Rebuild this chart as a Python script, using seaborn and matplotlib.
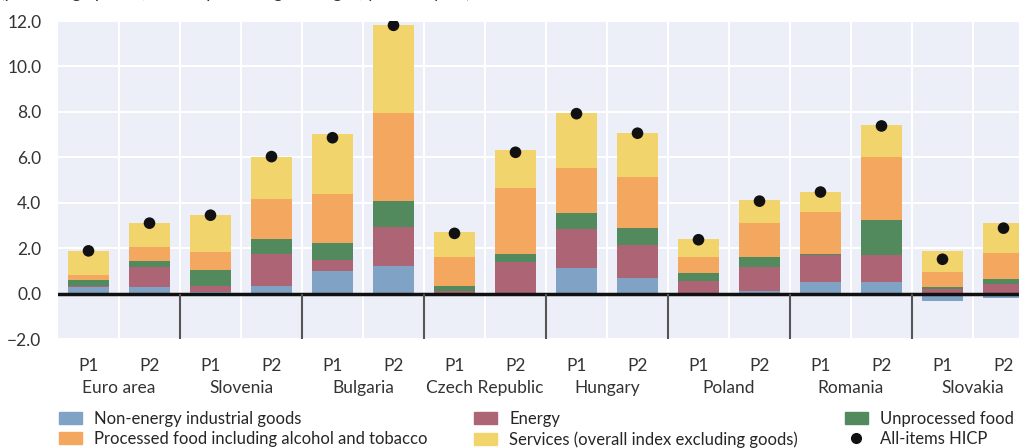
import numpy as np
import pandas as pd
import matplotlib
matplotlib.use("Agg")
import matplotlib.pyplot as plt
import seaborn as sns
from matplotlib.patches import Patch
from matplotlib.lines import Line2D


# Chart data
countries = ["Euro area", "Slovenia", "Bulgaria", "Czech Republic",
             "Hungary", "Poland", "Romania", "Slovakia"]
periods = ["P1", "P2"]

non_energy = [0.29, 0.28, 0.06, 0.32, 0.98, 1.20, 0.00, 0.00,
              1.12, 0.67, 0.00, 0.10, 0.50, 0.50, -0.34, -0.21]
energy = [0.04, 0.88, 0.26, 1.41, 0.49, 1.73, 0.10, 1.38,
          1.72, 1.46, 0.54, 1.06, 1.19, 1.19, 0.19, 0.41]
unprocessed = [0.26, 0.27, 0.71, 0.67, 0.75, 1.14, 0.22, 0.35,
               0.70, 0.75, 0.36, 0.44, 0.04, 1.54, 0.09, 0.22]
processed = [0.22, 0.61, 0.79, 1.76, 2.16, 3.88, 1.28, 2.92,
             1.99, 2.25, 0.70, 1.50, 1.86, 2.78, 0.66, 1.15]
services = [1.06, 1.06, 1.63, 1.85, 2.65, 3.89, 1.11, 1.67,
            2.42, 1.94, 0.80, 1.02, 0.88, 1.41, 0.93, 1.32]
hicp = [1.88, 3.10, 3.45, 6.03, 6.86, 11.81, 2.65, 6.22,
        7.92, 7.06, 2.37, 4.07, 4.47, 7.38, 1.51, 2.88]

series_names = ["Non-energy industrial goods", "Energy", "Unprocessed food",
                "Processed food including alcohol and tobacco",
                "Services (overall index excluding goods)"]
series_colors = ["#7fa2c5", "#ad6474", "#528a5e", "#f4a75e", "#f1d46c"]


def build_frame():
    labels = [f"{c}|{p}" for c in countries for p in periods]
    df = pd.DataFrame({
        "label": labels,
        series_names[0]: non_energy,
        series_names[1]: energy,
        series_names[2]: unprocessed,
        series_names[3]: processed,
        series_names[4]: services,
        "hicp": hicp,
    })
    return df


def plot_chart(df):
    sns.set_theme(style="darkgrid")
    plt.rcParams["font.family"] = ["Lato", "DejaVu Sans"]
    plt.rcParams["axes.unicode_minus"] = True

    fig = plt.figure(figsize=(10.2, 4.48), dpi=100)
    ax = fig.add_axes([58 / 1020, 109 / 448, 976 / 1020, 318 / 448])
    ax.set_facecolor("#eceff7")

    order = list(df["label"])
    # stacked positive parts: draw cumulative totals from the top down
    pos = df[series_names].clip(lower=0)
    cum = pos.cumsum(axis=1)
    for name, color in reversed(list(zip(series_names, series_colors))):
        sns.barplot(x=df["label"], y=cum[name], order=order, color=color,
                    width=0.67, linewidth=0, saturation=1, ax=ax, zorder=3)
    # negative contributions (non-energy industrial goods in Slovakia)
    neg = df[series_names[0]].clip(upper=0)
    sns.barplot(x=df["label"], y=neg, order=order, color=series_colors[0],
                width=0.67, linewidth=0, saturation=1, ax=ax, zorder=3)

    # All-items HICP dots
    sns.scatterplot(x=np.arange(len(df)), y=df["hicp"], color="#111111",
                    s=70, edgecolor="none", ax=ax, zorder=5)

    ax.set_xlim(-0.5, len(df) - 0.5)
    ax.set_ylim(-2, 12)
    ax.set_yticks(np.arange(-2, 13, 2))
    ax.set_yticklabels([f"{v:.1f}".replace("-", "\u2212") for v in np.arange(-2, 13, 2)])
    ax.set_xticks(np.arange(len(df)))
    ax.set_xticklabels(periods * len(countries))
    ax.set_xticks(np.arange(len(df) - 1) + 0.5, minor=True)
    ax.grid(False)
    ax.grid(True, axis="y", which="major", color="white", lw=1.5, zorder=0)
    ax.grid(True, axis="x", which="minor", color="white", lw=1.5, zorder=0)
    ax.set_axisbelow(True)
    ax.tick_params(axis="both", which="both", length=0, labelsize=12.5,
                   labelcolor="#333333")
    ax.tick_params(axis="x", pad=13.5)
    ax.tick_params(axis="y", pad=12)
    ax.set_xlabel("")
    ax.set_ylabel("")
    for s in ax.spines.values():
        s.set_visible(False)

    # zero line and group separators below zero
    ax.axhline(0, color="#111111", lw=2.5, zorder=4)
    ax.vlines(np.arange(1, len(countries)) * 2 - 0.5, -2, 0,
              color="#555555", lw=1.5, zorder=4)

    # country names under the period labels
    for i, c in enumerate(countries):
        ax.text(2 * i + 0.5, -49 / 318, c, transform=ax.get_xaxis_transform(),
                ha="center", va="center", fontsize=12.5, color="#333333")

    fig.text(0.0, 1 + 2 / 448, "(percentage points; annual percentage changes, year-on-year)",
             ha="left", va="baseline", fontsize=12.5, color="#333333")

    handles = [Patch(color=c) for c in series_colors]
    handles.append(Line2D([], [], marker="o", ls="", color="#111111", markersize=7))
    labels = series_names + ["All-items HICP"]
    order_idx = [0, 3, 1, 4, 2, 5]
    fig.legend([handles[i] for i in order_idx], [labels[i] for i in order_idx],
               ncol=3, loc="upper left", bbox_to_anchor=(59 / 1020, 1 - 411 / 448),
               frameon=False, fontsize=12, handlelength=1.4, handleheight=0.75,
               handletextpad=0.7, columnspacing=2.8, labelspacing=0.25,
               borderaxespad=0, borderpad=0)

    fig.savefig("out.png", dpi=100)


def main():
    df = build_frame()
    plot_chart(df)


if __name__ == "__main__":
    main()
